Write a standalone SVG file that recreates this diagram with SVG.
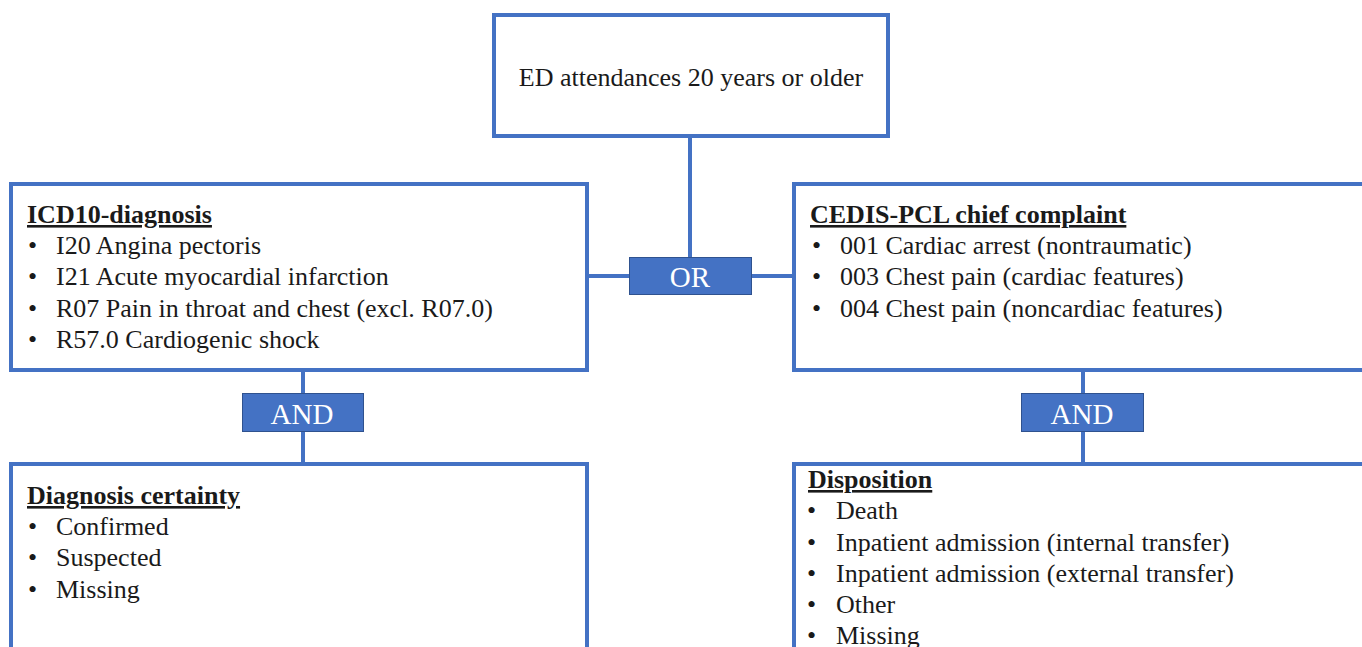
<svg xmlns="http://www.w3.org/2000/svg" width="1362" height="647" viewBox="0 0 1362 647">
<style>
.box{fill:#fff;stroke:#4472C4;stroke-width:4}
.op{fill:#4472C4;stroke:#2F528F;stroke-width:1}
.ln{stroke:#4472C4;stroke-width:4;fill:none}
text{font-family:"Liberation Serif","Times New Roman",serif;font-size:26px;fill:#1a1a1a}
.h{font-weight:bold;text-decoration:underline}
.w{fill:#fff;font-size:29px}
</style>
<rect width="1362" height="647" fill="#fff"/>
<g id="connectors">
<line class="ln" x1="690" y1="137" x2="690" y2="258"/>
<line class="ln" x1="588" y1="276" x2="630" y2="276"/>
<line class="ln" x1="751" y1="276" x2="793" y2="276"/>
<line class="ln" x1="303" y1="370" x2="303" y2="462"/>
<line class="ln" x1="1083" y1="370" x2="1083" y2="462"/>
</g>
<g id="top">
<rect class="box" x="494" y="15" width="394" height="121"/>
<text x="691" y="86" text-anchor="middle">ED attendances 20 years or older</text>
</g>
<g id="icd10">
<rect class="box" x="11" y="184" width="576" height="186"/>
<text class="h" x="27" y="223">ICD10-diagnosis</text>
<text x="28" y="254">•</text><text x="56" y="254">I20 Angina pectoris</text>
<text x="28" y="285">•</text><text x="56" y="285">I21 Acute myocardial infarction</text>
<text x="28" y="317">•</text><text x="56" y="317">R07 Pain in throat and chest (excl. R07.0)</text>
<text x="28" y="348">•</text><text x="56" y="348">R57.0 Cardiogenic shock</text>
</g>
<g id="cedis">
<rect class="box" x="794" y="184" width="620" height="186"/>
<text class="h" x="810" y="223">CEDIS-PCL chief complaint</text>
<text x="812" y="254">•</text><text x="840" y="254">001 Cardiac arrest (nontraumatic)</text>
<text x="812" y="285">•</text><text x="840" y="285">003 Chest pain (cardiac features)</text>
<text x="812" y="317">•</text><text x="840" y="317">004 Chest pain (noncardiac features)</text>
</g>
<g id="or">
<rect class="op" x="629.5" y="257.5" width="122" height="37"/>
<text class="w" x="690" y="287" text-anchor="middle">OR</text>
</g>
<g id="and-left">
<rect class="op" x="242.5" y="393.5" width="121" height="38"/>
<text class="w" x="302" y="424" text-anchor="middle">AND</text>
</g>
<g id="and-right">
<rect class="op" x="1021.5" y="393.5" width="122" height="38"/>
<text class="w" x="1082" y="424" text-anchor="middle">AND</text>
</g>
<g id="certainty">
<rect class="box" x="11" y="464" width="576" height="220"/>
<text class="h" x="27" y="504">Diagnosis certainty</text>
<text x="28" y="535">•</text><text x="56" y="535">Confirmed</text>
<text x="28" y="566">•</text><text x="56" y="566">Suspected</text>
<text x="28" y="598">•</text><text x="56" y="598">Missing</text>
</g>
<g id="disposition">
<rect class="box" x="794" y="464" width="620" height="220"/>
<text class="h" x="808" y="488">Disposition</text>
<text x="807" y="519">•</text><text x="836" y="519">Death</text>
<text x="807" y="551">•</text><text x="836" y="551">Inpatient admission (internal transfer)</text>
<text x="807" y="582">•</text><text x="836" y="582">Inpatient admission (external transfer)</text>
<text x="807" y="613">•</text><text x="836" y="613">Other</text>
<text x="807" y="644">•</text><text x="836" y="644">Missing</text>
</g>
</svg>
